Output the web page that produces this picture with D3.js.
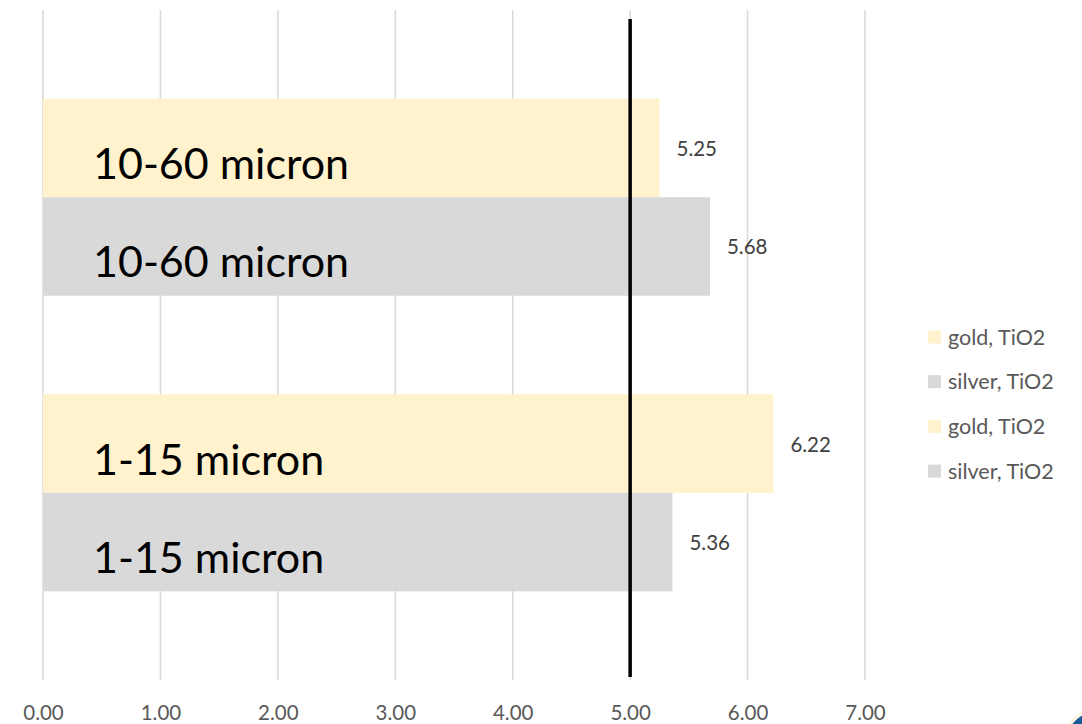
<!DOCTYPE html>
<html>
<head>
<meta charset="utf-8">
<script src="https://cdn.jsdelivr.net/npm/d3@7"></script>
<style>
  html, body { margin: 0; padding: 0; background: #fff; }
  svg { display: block; }
</style>
</head>
<body>
<svg id="chart" width="1082" height="724"></svg>
<script>
// ---- data ----
const categories = ["10-60 micron", "1-15 micron"];
const goldValues = [5.25, 6.22];
const silverValues = [5.68, 5.36];
const legendLabels = ["gold, TiO2", "silver, TiO2", "gold, TiO2", "silver, TiO2"];
const legendKinds = ["gold", "silver", "gold", "silver"];
const tickValues = [0, 1, 2, 3, 4, 5, 6, 7];
const referenceValue = 5;

const colors = { gold: "#FFF2CC", silver: "#D9D9D9" };

// rows: each category has a gold and silver bar, with a gap row between
const rows = [];
categories.forEach((c, i) => {
  rows.push({ key: "g" + i, cat: c, kind: "gold", value: goldValues[i] });
  rows.push({ key: "s" + i, cat: c, kind: "silver", value: silverValues[i] });
  if (i < categories.length - 1) rows.push({ key: "gap" + i, gap: true });
});

const svg = d3.select("#chart");
const x = d3.scaleLinear().domain([0, 7]).range([43, 865]);
const y = d3.scaleBand().domain(rows.map(r => r.key)).range([10, 680])
  .paddingInner(0).paddingOuter(0.9);

// gridlines
svg.append("g").selectAll("line").data(tickValues).join("line")
  .attr("x1", d => x(d)).attr("x2", d => x(d))
  .attr("y1", 10).attr("y2", 680)
  .attr("stroke", "#D9D9D9").attr("stroke-width", 1.5);

// axis tick labels
const axis = d3.axisBottom(x).tickValues(tickValues).tickFormat(d3.format(".2f")).tickSize(0).tickPadding(0);
const gx = svg.append("g").attr("transform", "translate(0,705)").call(axis);
gx.select(".domain").remove();
gx.selectAll("text")
  .attr("dy", "0.71em")
  .attr("fill", "#595959")
  .style("font-family", "Lato, 'Open Sans', sans-serif")
  .style("font-size", "20.5px");

// bars
const bars = rows.filter(r => !r.gap);
svg.append("g").selectAll("rect").data(bars).join("rect")
  .attr("x", x(0))
  .attr("y", d => y(d.key))
  .attr("width", d => x(d.value) - x(0))
  .attr("height", y.bandwidth())
  .attr("fill", d => colors[d.kind]);

// category labels inside bars
svg.append("g").selectAll("text").data(bars).join("text")
  .attr("x", 93)
  .attr("y", d => y(d.key) + y.bandwidth() / 2 + 31)
  .attr("fill", "#000")
  .style("font-family", "Lato, 'Open Sans', sans-serif")
  .style("font-size", "43px")
  .text(d => d.cat);

// value labels
svg.append("g").selectAll("text").data(bars).join("text")
  .attr("x", d => x(d.value) + 17)
  .attr("y", d => y(d.key) + y.bandwidth() / 2 + 8)
  .attr("fill", "#404040")
  .style("font-family", "Lato, 'Open Sans', sans-serif")
  .style("font-size", "20.5px")
  .text(d => d3.format(".2f")(d.value));

// reference line
svg.append("line")
  .attr("x1", x(referenceValue)).attr("x2", x(referenceValue))
  .attr("y1", 19).attr("y2", 677)
  .attr("stroke", "#000").attr("stroke-width", 3.5);

// legend
const lg = svg.append("g").selectAll("g").data(legendLabels).join("g")
  .attr("transform", (d, i) => `translate(928,${337 + i * 44.7})`);
lg.append("rect").attr("x", 0).attr("y", -6.5).attr("width", 13).attr("height", 13)
  .attr("fill", (d, i) => colors[legendKinds[i]]);
lg.append("text").attr("x", 20).attr("y", 7.5)
  .attr("fill", "#595959")
  .style("font-family", "Lato, 'Open Sans', sans-serif")
  .style("font-size", "21.5px")
  .text(d => d);

// corner logo fragment
svg.append("circle").attr("cx", 1100).attr("cy", 745).attr("r", 38).attr("fill", "#fdf6e3");
svg.append("circle").attr("cx", 1101).attr("cy", 746).attr("r", 36).attr("fill", "#1a5a9a");
</script>
</body>
</html>
